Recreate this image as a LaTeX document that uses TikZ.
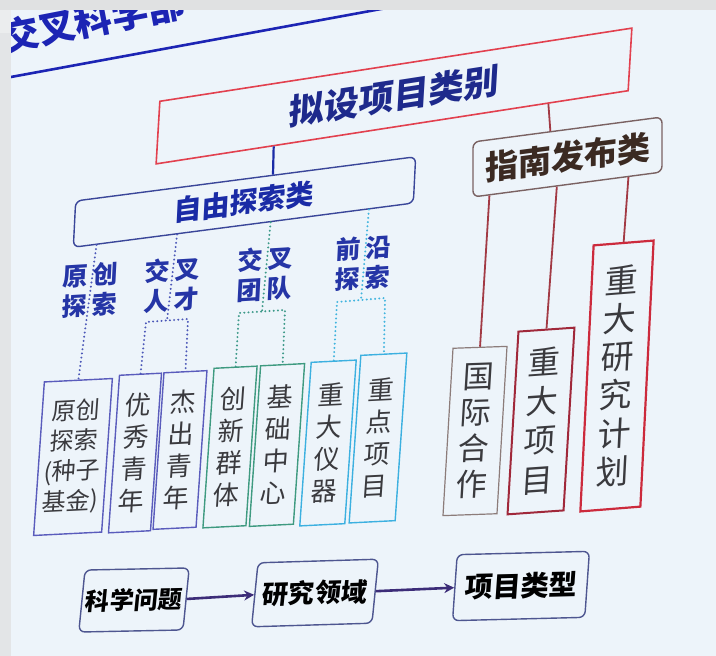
\documentclass[tikz,border=0pt]{standalone}
\usepackage{fontspec}
\newfontfamily\cjk{Noto Sans CJK SC}
\usetikzlibrary{calc,arrows.meta}
\newcommand\myfs[2]{\fontsize{#1pt}{#2pt}\selectfont}
\definecolor{slidebg}{HTML}{EDF4FA}
\definecolor{stripgray}{HTML}{E3E5E7}
\definecolor{stripgraylight}{HTML}{EBEDEE}
\definecolor{bandgray}{HTML}{E0E1E2}
\definecolor{titleblue}{HTML}{1C24B4}
\definecolor{topred}{HTML}{E2404E}
\definecolor{navy}{HTML}{1E2A8C}
\definecolor{ziyou}{HTML}{3A4699}
\definecolor{ziyoutext}{HTML}{1A2BA6}
\definecolor{zhinan}{HTML}{7A6262}
\definecolor{zhinantext}{HTML}{3B2A22}
\definecolor{brred}{HTML}{A23A44}
\definecolor{gjgray}{HTML}{8C7C7A}
\definecolor{darkred}{HTML}{A0283A}
\definecolor{brightred}{HTML}{CC2A3C}
\definecolor{bpurple}{HTML}{5A5CBC}
\definecolor{bgreen}{HTML}{3E9A80}
\definecolor{bcyan}{HTML}{3CB0E0}
\definecolor{lblue}{HTML}{2535A6}
\definecolor{dotblue}{HTML}{4C58B8}
\definecolor{dotteal}{HTML}{3E9A8A}
\definecolor{dotcyan}{HTML}{40B4DE}
\definecolor{boxtext}{HTML}{3A3A3E}
\definecolor{flowbox}{HTML}{4E5690}
\definecolor{flowarrow}{HTML}{3C2C78}
\begin{document}
\begin{tikzpicture}[x=1pt,y=-1pt,
  box/.style={draw, inner sep=0pt, align=center},
  redtop/.style={box, draw=topred, line width=1.6pt, text=navy, font=\cjk\bfseries\myfs{35}{40}},
  ziyoubox/.style={box, draw=ziyou, line width=1.4pt, rounded corners=6pt, text=ziyoutext, font=\cjk\bfseries\myfs{28}{32}},
  zhinanbox/.style={box, draw=zhinan, line width=1.4pt, rounded corners=6pt, text=zhinantext, font=\cjk\bfseries\myfs{33}{38}},
  leafbox/.style={box, line width=1.4pt, text=boxtext, font=\cjk\myfs{26}{32}, yslant=0.05, xslant=0.07},
  rightbox/.style={box, text=boxtext, font=\cjk\myfs{32}{38}},
  lbl/.style={inner sep=0pt, align=center, text=lblue, font=\cjk\bfseries\myfs{25}{30}, yslant=0.06, xslant=0.05},
  flow/.style={box, draw=flowbox, line width=1.4pt, rounded corners=6pt, text=black, font=\cjk\bfseries\myfs{25}{30}},
  flowarr/.style={draw=flowarrow, line width=2.6pt, -{Stealth[length=10pt,width=10pt]}},
  dotline/.style={line width=2.2pt, dash pattern=on 0.01pt off 4.2pt, line cap=round},
  bline/.style={draw=ziyoutext, line width=2.2pt},
  brline/.style={draw=brred, line width=1.8pt}
]
\useasboundingbox (0,0) rectangle (716,656);
\fill[slidebg] (0,0) rectangle (716,656);

% title and its underline
\node[anchor=base west, rotate=11, inner sep=0pt, text=titleblue, font=\cjk\bfseries\myfs{37}{40}] (ttl) at (5,52) {交叉科学部};
\coordinate (ul1) at (0,79);
\coordinate (ul2) at (430,0);
\draw[titleblue, line width=2.6pt] (ul1) -- (ul2);

% photo edges
\fill[bandgray] (0,0) rectangle (716,10);
\fill[stripgraylight] (0,10) rectangle (11,33);
\fill[stripgray] (0,33) rectangle (11,656);

% top level
\node[redtop, minimum width=472pt, minimum height=62pt, yslant=0.155, xslant=0.06] (top) at (394,96) {拟设项目类别};
\node[ziyoubox, minimum width=340pt, minimum height=46pt, yslant=0.13, xslant=0.05] (zy) at (244.5,202) {自由探索类};
\node[zhinanbox, minimum width=189pt, minimum height=55pt, yslant=0.132] (zn) at (567.5,157) {指南发布类};

\draw[bline] ($(top.south west)!0.25!(top.south east)$) -- ($(zy.north west)!0.58!(zy.north east)$);
\draw[brline] ($(top.south west)!0.83!(top.south east)$) -- ($(zn.north west)!0.41!(zn.north east)$);

% guide-released category
\node[rightbox, draw=gjgray, line width=1.2pt, minimum width=54pt, minimum height=167pt, yslant=0.035, xslant=0.06, font=\cjk\myfs{31}{36}] (gj) at (475,431) {国\\际\\合\\作};
\node[rightbox, draw=darkred, line width=2pt, minimum width=56pt, minimum height=182pt, yslant=0.07, xslant=0.06, font=\cjk\myfs{32}{39}] (zx) at (541,421) {重\\大\\项\\目};
\node[rightbox, draw=brightred, line width=2.2pt, minimum width=60pt, minimum height=265pt, yslant=0.08, xslant=0.05, font=\cjk\myfs{33}{38}] (zy6) at (617,376) {重\\大\\研\\究\\计\\划};

\draw[brline] ($(zn.south west)!0.09!(zn.south east)$) -- (gj.north);
\draw[brline] ($(zn.south west)!0.444!(zn.south east)$) -- (zx.north);
\draw[brline] ($(zn.south west)!0.82!(zn.south east)$) -- (zy6.north);

% free exploration leaves
\node[leafbox, draw=bpurple, minimum width=68pt, minimum height=153pt, font=\cjk\myfs{24}{30}] (b1) at (73,457) {原创\\探索\\(种子\\基金)};
\node[leafbox, draw=bpurple, minimum width=42pt, minimum height=157pt] (b2) at (135,453) {优\\秀\\青\\年};
\node[leafbox, draw=bpurple, minimum width=43pt, minimum height=156pt] (b3) at (180,450) {杰\\出\\青\\年};
\node[leafbox, draw=bgreen, minimum width=43pt, minimum height=159pt] (b4) at (230,447) {创\\新\\群\\体};
\node[leafbox, draw=bgreen, minimum width=44pt, minimum height=160pt] (b5) at (277,445) {基\\础\\中\\心};
\node[leafbox, draw=bcyan, minimum width=45pt, minimum height=163pt] (b6) at (328,443) {重\\大\\仪\\器};
\node[leafbox, draw=bcyan, minimum width=46pt, minimum height=167pt] (b7) at (378,438) {重\\点\\项\\目};

% bracket corners
\coordinate (c2l) at (146,322);
\coordinate (c2r) at (188,319);
\coordinate (c3l) at (239,313);
\coordinate (c3r) at (285,310);
\coordinate (c4l) at (337,302);
\coordinate (c4r) at (385,298);

% dotted connectors
\draw[dotline, draw=dotblue] ($(zy.south west)!0.07!(zy.south east)$) -- (b1.north);
\draw[dotline, draw=dotblue] ($(zy.south west)!0.306!(zy.south east)$) -- ($(c2l)!0.5!(c2r)$);
\draw[dotline, draw=dotblue] (b2.north) -- (c2l) -- (c2r) -- (b3.north);
\draw[dotline, draw=dotteal] ($(zy.south west)!0.58!(zy.south east)$) -- ($(c3l)!0.5!(c3r)$);
\draw[dotline, draw=dotteal] (b4.north) -- (c3l) -- (c3r) -- (b5.north);
\draw[dotline, draw=dotcyan] ($(zy.south west)!0.868!(zy.south east)$) -- ($(c4l)!0.5!(c4r)$);
\draw[dotline, draw=dotcyan] (b6.north) -- (c4l) -- (c4r) -- (b7.north);

% labels
\node[lbl] (l1) at (90,290) {原\hspace{5pt}创\\探\hspace{5pt}索};
\node[lbl] (l2) at (172,285) {交\hspace{5pt}叉\\人\hspace{5pt}才};
\node[lbl] (l3) at (265,274) {交\hspace{5pt}叉\\团\hspace{5pt}队};
\node[lbl] (l4) at (363,263) {前\hspace{5pt}沿\\探\hspace{5pt}索};

% bottom flow
\node[flow, minimum width=104pt, minimum height=62pt, xslant=0.1, yslant=0.02, font=\cjk\bfseries\myfs{24}{30}] (q) at (134,600) {科学问题};
\node[flow, minimum width=120pt, minimum height=64pt, xslant=0.1, yslant=0.03, font=\cjk\bfseries\myfs{26}{30}] (f) at (315,593) {研究领域};
\node[flow, minimum width=132pt, minimum height=66pt, xslant=0.07, yslant=0.025, font=\cjk\bfseries\myfs{28}{32}] (t) at (521,586) {项目类型};
\draw[flowarr] (q.east) -- (f.west);
\draw[flowarr] (f.east) -- (t.west);
\end{tikzpicture}
\end{document}
